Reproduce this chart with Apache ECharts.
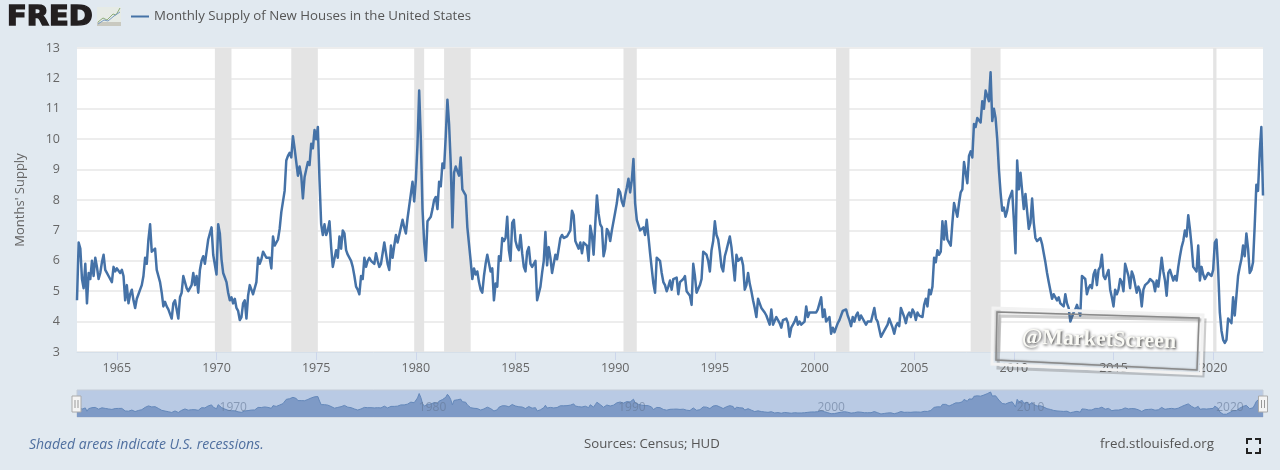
<!DOCTYPE html>
<html><head><meta charset="utf-8">
<script src="https://cdn.jsdelivr.net/npm/echarts@6/dist/echarts.min.js"></script>
<style>html,body{margin:0;padding:0;background:#e1e9f0}#c{width:1280px;height:470px}</style>
</head><body><div id="c"></div>
<script>
const seriesName = "Monthly Supply of New Houses in the United States";
const yAxisName = "Months' Supply";
const footLeft = "Shaded areas indicate U.S. recessions.";
const footMid = "Sources: Census; HUD";
const footRight = "fred.stlouisfed.org";
const firstYear = 1963, lastYear = 2022, lastMonth = 7;

const supply1960s = [
 4.7,6.6,6.4,5.4,5.1,5.9,4.6,5.6,5.4,6.0,5.5,6.1,
 5.8,5.4,5.6,5.95,6.2,5.7,5.6,5.5,5.45,5.3,5.8,5.65,
 5.75,5.7,5.6,5.7,5.5,4.7,5.2,4.6,4.9,5.05,4.7,4.45,
 4.75,4.9,5.05,5.2,5.5,6.1,5.9,6.7,7.2,6.3,6.25,6.4,
 5.7,5.7,5.3,4.95,4.5,4.65,4.5,4.4,4.35,4.1,4.6,4.7,
 4.7,4.1,4.8,4.95,5.5,5.5,5.1,5.0,5.1,5.2,5.6,5.2,
 5.5,4.95,5.7,6.0,6.15,5.9,6.3,6.7,6.9,7.1,6.2,6.15];
const supply1970s = [
 5.55,7.2,6.9,6.05,5.6,5.45,5.3,4.95,4.7,4.8,4.6,4.75,
 4.45,4.35,4.05,4.15,4.6,4.7,4.1,4.85,5.2,5.05,4.9,5.1,
 5.3,6.1,5.9,6.05,6.3,6.3,6.1,6.1,6.1,5.75,6.8,6.5,
 6.5,6.7,7.05,7.6,7.6,8.3,9.3,9.45,9.55,9.4,10.1,9.7,
 9.65,8.8,9.1,8.8,8.05,8.75,9.0,9.25,9.15,9.85,9.7,10.3,
 10.0,10.4,8.65,7.2,6.85,7.2,6.85,7.0,7.3,6.45,5.8,5.8,
 6.35,6.1,6.8,6.4,7.0,6.9,6.35,6.2,6.2,6.0,5.8,5.5,
 5.15,5.05,4.9,5.5,5.4,6.1,5.8,6.0,6.1,6.0,6.0,5.9,
 6.25,6.0,5.8,5.9,6.25,6.6,6.6,5.9,5.7,6.5,6.1,6.5,
 6.85,6.6,6.85,7.1,7.35,7.1,6.9,7.4,7.4,8.2,8.6,7.95];
const supply1980s = [
 8.65,9.85,11.6,10.0,7.7,6.6,6.0,7.3,7.3,7.45,7.7,8.0,
 8.1,7.7,8.6,8.45,9.2,9.05,10.1,11.3,10.5,9.2,7.1,8.9,
 9.1,9.1,8.8,9.4,8.35,8.3,8.15,7.1,6.55,6.0,5.4,5.75,
 5.55,5.65,5.3,5.05,4.95,5.5,5.9,6.2,6.2,5.65,5.75,4.7,
 5.25,5.15,6.15,6.0,6.75,6.65,6.75,7.45,6.35,6.0,7.25,7.35,
 6.65,6.45,6.35,6.85,6.25,5.8,5.65,6.3,6.45,5.9,5.8,5.75,
 6.0,4.7,4.7,5.15,5.6,6.0,6.95,5.85,6.45,6.1,5.6,5.9,
 6.2,6.05,6.0,6.75,6.85,6.75,6.8,6.8,6.8,7.0,7.65,7.5,
 6.65,6.6,6.4,6.6,6.25,6.6,6.6,6.5,6.0,7.15,6.85,6.2,
 7.2,8.15,7.55,7.2,7.1,6.15,6.4,7.05,6.95,6.65,7.0,7.0];
const supply1990s = [
 7.6,7.9,8.35,8.25,7.95,7.8,8.15,8.4,8.7,8.25,8.65,9.35,
 7.9,7.35,7.3,7.0,7.0,7.1,6.85,7.35,6.8,6.25,6.2,5.25,
 4.95,6.1,6.1,6.0,5.6,5.3,5.2,5.0,5.15,5.35,5.05,5.4,
 5.4,5.45,4.9,5.3,5.3,5.4,5.5,5.0,5.05,4.85,4.55,5.9,
 5.5,4.95,4.95,5.2,5.4,6.3,6.35,6.2,6.0,5.65,6.35,6.65,
 7.3,6.85,6.7,6.3,5.8,5.65,6.15,6.35,6.35,6.8,6.45,6.45,
 5.35,6.2,6.0,5.95,6.1,5.85,5.05,5.2,5.6,5.25,5.0,4.7,
 4.45,4.15,4.75,4.6,4.45,4.4,4.3,4.2,4.15,3.9,4.4,3.9,
 3.9,4.15,4.05,3.95,3.8,4.05,4.1,4.1,3.95,3.5,3.8,3.9,
 4.0,4.15,3.9,4.0,3.9,3.95,4.0,4.5,4.15,4.3,4.3,4.3];
const supply2000s = [
 4.3,4.3,4.4,4.4,4.8,4.15,4.4,4.0,4.0,4.15,3.6,3.8,
 3.65,3.8,3.95,4.05,4.2,4.35,4.4,4.4,4.2,4.05,3.85,4.15,
 4.0,4.2,4.3,4.05,4.2,4.2,4.0,3.9,4.0,4.0,4.0,4.0,
 4.45,4.1,4.0,3.75,3.5,3.55,3.7,3.8,3.9,4.1,3.95,3.8,
 3.6,3.85,3.95,3.85,4.45,4.45,4.15,3.95,4.2,4.3,4.15,4.4,
 4.3,4.05,4.3,4.2,4.2,4.15,4.55,4.75,4.5,5.05,4.9,5.15,
 6.1,5.95,6.35,6.2,6.3,7.3,6.7,7.3,6.7,6.65,6.5,7.25,
 7.9,7.9,7.45,7.9,8.25,8.35,9.25,9.25,8.55,9.45,9.6,9.4,
 10.5,10.4,10.7,10.75,10.55,11.25,11.0,11.6,11.55,11.25,12.2,10.6,
 11.0,10.7,10.0,9.0,8.25,7.65,7.75,7.45,7.65,8.0,8.15,8.3];
const supply2010s = [
 7.35,6.25,9.3,8.35,8.9,8.85,7.7,8.2,8.2,7.05,7.25,8.05,
 7.25,6.75,6.65,6.6,6.75,6.55,6.25,5.95,5.6,5.3,5.3,4.75,
 4.9,4.9,4.7,4.8,4.6,4.6,4.5,4.9,4.6,4.45,4.0,4.15,
 4.3,4.4,4.55,4.6,4.2,5.5,5.5,5.4,4.9,5.1,5.2,5.1,
 5.55,5.7,5.2,5.7,5.8,6.2,5.5,5.4,5.4,5.7,5.05,4.8,
 4.5,5.05,4.9,5.05,5.4,5.3,5.0,5.9,5.7,5.5,5.1,5.65,
 5.5,5.55,4.95,5.15,5.0,4.5,5.05,5.2,5.2,5.3,5.4,5.4,
 5.3,5.0,5.35,5.15,5.6,6.1,5.65,5.35,4.85,5.6,5.7,5.7,
 5.35,5.5,5.35,5.8,6.15,6.45,6.65,7.0,6.8,7.5,7.05,6.5,
 5.8,5.8,5.65,6.5,5.35,5.8,5.55,5.4,5.45,5.6,5.6,5.5];
const supply2020s = [
 5.7,6.6,6.7,5.7,4.3,3.7,3.4,3.3,3.4,4.1,4.1,3.95,
 4.8,4.2,4.85,5.5,5.8,6.05,6.5,6.15,6.9,6.4,5.6,5.7,
 5.95,7.15,8.5,8.3,9.55,10.4,8.15];
const supplyValues = [].concat(supply1960s,supply1970s,supply1980s,supply1990s,supply2000s,supply2010s,supply2020s);

const recessions = [
 ["1969-12","1970-10"],["1973-10","1975-02"],["1979-12","1980-06"],["1981-06","1982-10"],
 ["1990-06","1991-02"],["2001-02","2001-10"],["2007-11","2009-05"],["2020-01","2020-03"]];

const months = [];
for (let y = firstYear; y <= lastYear; y++)
  for (let m = 1; m <= 12; m++) {
    if (y === lastYear && m > lastMonth) break;
    months.push(y + "-" + String(m).padStart(2, "0"));
  }

const FONT = "'Open Sans', sans-serif";
const isEvery = n => (i, v) => v.endsWith("-01") && (+v.slice(0,4)) % n === 0;
const BLUE = "#4572a7";

const chart = echarts.init(document.getElementById("c"), null, {renderer:"canvas"});
const deco = [
  // FRED logo
  {type:"text", x:7, y:18, scaleX:1.11, z:20, style:{text:"FRED", verticalAlign:"middle", fontFamily:"'DejaVu Sans'", fontWeight:"bold", fontSize:26, fill:"#231f20", stroke:"#231f20", lineWidth:1.4}},
  {type:"rect", z:20, shape:{x:97,y:7,width:24,height:19}, style:{fill:"#e6ebe6"}},
  {type:"rect", z:20, shape:{x:97,y:22,width:24,height:4}, style:{fill:"#c9c9c0"}},
  {type:"polyline", z:21, shape:{points:[[98,22],[103,18],[107,20],[113,14],[116,15],[120,8]]}, style:{stroke:"#8fae7c",lineWidth:1,fill:null}},
  {type:"polyline", z:21, shape:{points:[[98,24],[104,20],[108,21],[114,16],[120,12]]}, style:{stroke:"#7a9cc0",lineWidth:1,fill:null}},
  // footer
  {type:"text", left:29, top:438, style:{text:footLeft, fontFamily:FONT, fontStyle:"italic", fontSize:14, fill:"#4f6f9f"}},
  {type:"text", left:584, top:438, style:{text:footMid, fontFamily:FONT, fontSize:13.2, fill:"#555"}},
  {type:"text", left:1100, top:438, style:{text:footRight, fontFamily:FONT, fontSize:13.35, fill:"#555"}},
  // fullscreen icon
  ...[[[1247,444],[1247,439],[1252,439]],[[1255,439],[1260,439],[1260,444]],[[1247,448],[1247,453],[1252,453]],[[1255,453],[1260,453],[1260,448]]].map(p=>({
    type:"polyline", shape:{points:p}, style:{stroke:"#222",lineWidth:2,fill:null}})),
  // navigator handles
  ...[76.5,1263].flatMap(cx=>[
    {type:"rect", z:30, shape:{x:cx-4.5,y:396,width:9,height:16}, style:{fill:"#f4f4f4",stroke:"#aaa",lineWidth:1}},
    {type:"line", z:31, shape:{x1:cx-1.5,y1:400,x2:cx-1.5,y2:408}, style:{stroke:"#999",lineWidth:1}},
    {type:"line", z:31, shape:{x1:cx+1.5,y1:400,x2:cx+1.5,y2:408}, style:{stroke:"#999",lineWidth:1}}
  ]),
  // watermark
  {type:"polygon", z:40, shape:{points:[[1000,316],[1205,320],[1203,376],[998,368]]}, style:{fill:"rgba(0,0,0,0)",stroke:"rgba(90,90,90,0.3)",lineWidth:3}},
  {type:"polygon", z:41, shape:{points:[[993,308],[1203,315],[1201,374],[992,364]]}, style:{fill:"rgba(0,0,0,0)",stroke:"#f2f2f2",lineWidth:3}},
  {type:"polygon", z:42, shape:{points:[[997,312],[1199,318],[1197,370],[996,360]]}, style:{fill:"rgba(0,0,0,0)",stroke:"#8a8a8a",lineWidth:1.5,shadowBlur:2,shadowColor:"rgba(0,0,0,.3)"}},
  {type:"text", z:43, x:1099, y:340, rotation:-0.03, style:{text:"@MarketScreen", align:"center", verticalAlign:"middle", fontFamily:"'Liberation Serif'", fontWeight:"bold", fontSize:22, fill:"#fbfbf6", textShadowColor:"#333", textShadowBlur:3, textShadowOffsetX:1, textShadowOffsetY:1}}
];

chart.setOption({
  animation:false,
  backgroundColor:"#e1e9f0",
  textStyle:{fontFamily:FONT},
  legend:{left:126, top:5, data:[seriesName], icon:"rect", itemWidth:18, itemHeight:2,
    textStyle:{fontFamily:FONT, fontSize:13.25, color:"#555"}},
  grid:[
    {left:77, right:17, top:48, height:304, show:true, backgroundColor:"#fff", borderWidth:0},
    {left:77, right:17, top:390, height:27, show:true, backgroundColor:"#b9cae4", borderColor:"#c4ccd8", borderWidth:1}
  ],
  xAxis:[
    {type:"category", gridIndex:0, data:months, boundaryGap:false,
      axisLine:{lineStyle:{color:"#d5dfe9"}},
      axisTick:{show:true, length:8, interval:isEvery(5), lineStyle:{color:"#ccd6eb"}},
      axisLabel:{interval:isEvery(5), formatter:v=>v.slice(0,4), hideOverlap:false, margin:10, fontSize:12.5, color:"#666", fontFamily:FONT},
      splitLine:{show:false}},
    {type:"category", gridIndex:1, data:months, boundaryGap:false, z:5,
      axisLine:{show:false}, axisTick:{show:false},
      axisLabel:{inside:true, interval:isEvery(10), formatter:v=>v.slice(0,4), align:"left", hideOverlap:false, margin:3, fontSize:12, color:"rgba(100,120,150,.6)", fontFamily:FONT, padding:[0,0,0,3]},
      splitLine:{show:false}}
  ],
  yAxis:[
    {type:"value", gridIndex:0, min:3, max:13, interval:1, name:yAxisName, nameLocation:"middle", nameGap:50, nameRotate:90,
      nameTextStyle:{fontSize:13, color:"#666", fontFamily:FONT},
      axisLine:{show:false}, axisTick:{show:false},
      axisLabel:{margin:17, fontSize:12.5, color:"#666", fontFamily:FONT},
      splitLine:{lineStyle:{color:"#ededed", width:2}}},
    {type:"value", gridIndex:1, min:2.3, max:13, show:false, splitLine:{show:false}}
  ],
  series:[
    {name:seriesName, type:"line", xAxisIndex:0, yAxisIndex:0, data:supplyValues, showSymbol:false, symbol:"none",
      lineStyle:{color:BLUE, width:2.5, join:"round"}, itemStyle:{color:BLUE}, z:5, silent:true,
      markArea:{silent:true, itemStyle:{color:"#e4e4e4"}, data:recessions.map(r=>[{xAxis:r[0]},{xAxis:r[1]}])}},
    {name:"Navigator", type:"line", xAxisIndex:1, yAxisIndex:1, data:supplyValues, showSymbol:false, symbol:"none",
      lineStyle:{color:"#6488ba", width:1}, areaStyle:{color:"#7e9ac6", opacity:1, origin:"start"}, z:3, silent:true}
  ],
  graphic:deco
});
</script></body></html>
